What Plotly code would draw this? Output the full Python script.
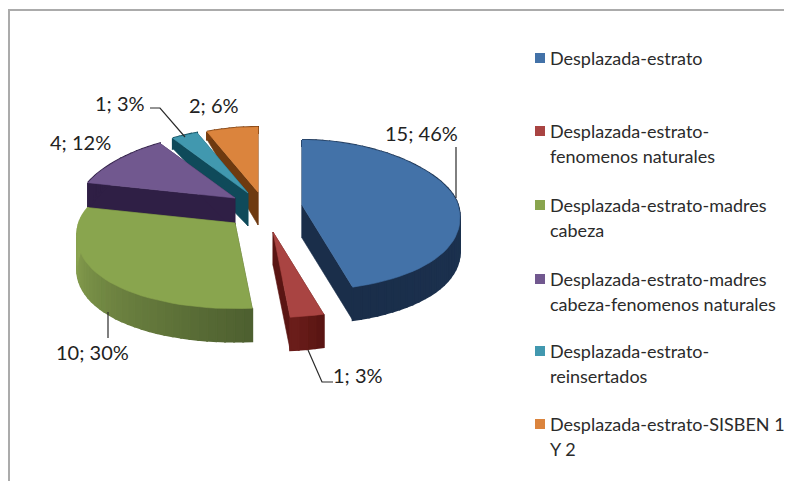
import math
import plotly.graph_objects as go

categories = ["Desplazada-estrato", "Desplazada-estrato-fenomenos naturales",
              "Desplazada-estrato-madres cabeza", "Desplazada-estrato-madres cabeza-fenomenos naturales",
              "Desplazada-estrato-reinsertados", "Desplazada-estrato-SISBEN 1 Y 2"]
values = [15, 1, 10, 4, 1, 2]
percent_labels = ["46%", "3%", "30%", "12%", "3%", "6%"]
legend_lines = [["Desplazada-estrato"],
                ["Desplazada-estrato-", "fenomenos naturales"],
                ["Desplazada-estrato-madres", "cabeza"],
                ["Desplazada-estrato-madres", "cabeza-fenomenos naturales"],
                ["Desplazada-estrato-", "reinsertados"],
                ["Desplazada-estrato-SISBEN 1", "Y 2"]]

# styling and layout (the axes are in page pixels; the page keeps an 8px body margin)
top_colors = ["#4372A8", "#A94442", "#89A54E", "#71588F", "#4198AF", "#DB843D"]
wall_from = ["#1E3656", "#5A1513", "#4E6030", "#2F1F45", "#0F4A5A", "#7A3E10"]
wall_to = ["#1A2E4A", "#6A1D1A", "#93AD55", "#2F1F45", "#0F4A5A", "#7A3E10"]
cut_colors = ["#1A2E4A", "#5A1513", "#4E6030", "#2F1F45", "#0F4A5A", "#6E3A10"]
centers = [(302, 205), (273, 232), (235, 223), (235, 198), (248, 193), (258, 192)]
RX, RY_BACK, RY_FRONT = 156, 65, 85.6
label_pos = [(421, 133), (358, 375), (92, 352), (80, 142), (120, 103), (214, 105)]
leaders = [[(456, 147), (456, 198)],
           [(308, 350), (322, 382), (333, 382)],
           [(108, 312), (108, 338)],
           [(150, 108), (160, 108), (185, 137)]]
legend_y = [58, 131, 205, 279, 351, 424]
LINE_GAP = 24.5


def top_pt(c, th):
    s, v = math.sin(th), math.cos(th)
    rx = RX * (1 - 0.13 * v if v > 0 else 1 - 0.16 * v)
    return c[0] + rx * s, c[1] - v * (RY_BACK if v > 0 else RY_FRONT)


def depth(v):
    return 33 - 27 * max(v, 0)


def bottom_pt(c, th):
    x, y = top_pt(c, th)
    return x, y + depth(math.cos(th))


def mix(a, b, t):
    pa = [int(a[i:i + 2], 16) for i in (1, 3, 5)]
    pb = [int(b[i:i + 2], 16) for i in (1, 3, 5)]
    return "rgb(%d,%d,%d)" % tuple(round(p + (q - p) * t) for p, q in zip(pa, pb))


def poly(fig, pts, color, lw=0.6):
    xs = [p[0] for p in pts] + [pts[0][0]]
    ys = [p[1] for p in pts] + [pts[0][1]]
    fig.add_trace(go.Scatter(x=xs, y=ys, mode="lines", fill="toself", fillcolor=color,
                             line=dict(color=color, width=lw), hoverinfo="skip", showlegend=False))


total = sum(values)
angles = [0]
for val in values:
    angles.append(angles[-1] + val / total * 2 * math.pi)

fig = go.Figure()
for i in [5, 4, 3, 2, 0, 1]:
    c, a0, a1 = centers[i], angles[i], angles[i + 1]
    n = max(4, int((a1 - a0) / 0.05))
    ths = [a0 + (a1 - a0) * k / n for k in range(n + 1)]
    for th in (a0, a1):
        poly(fig, [(c[0], c[1]), top_pt(c, th), bottom_pt(c, th), (c[0], c[1] + depth(0))], cut_colors[i])
    for k in range(n):
        t = k / (n - 1) if n > 1 else 0
        poly(fig, [top_pt(c, ths[k]), top_pt(c, ths[k + 1]), bottom_pt(c, ths[k + 1]), bottom_pt(c, ths[k])],
             mix(wall_from[i], wall_to[i], t), lw=2)
    poly(fig, [c] + [top_pt(c, th) for th in ths], top_colors[i])

for seg in leaders:
    fig.add_trace(go.Scatter(x=[p[0] for p in seg], y=[p[1] for p in seg], mode="lines",
                             line=dict(color="#2A2A2A", width=1.2), hoverinfo="skip", showlegend=False))

annotations = []
for val, pct, (x, y) in zip(values, percent_labels, label_pos):
    annotations.append(dict(x=x, y=y, xref="x", yref="y", text=f"{val}; {pct}", showarrow=False,
                            font=dict(family="Lato", size=20, color="#222222")))
for lines, y, col in zip(legend_lines, legend_y, top_colors):
    fig.add_trace(go.Scatter(x=[540], y=[y], mode="markers", marker=dict(symbol="square", size=10, color=col),
                             hoverinfo="skip", showlegend=False))
    for j, line in enumerate(lines):
        annotations.append(dict(x=548, y=y + j * LINE_GAP, xref="x", yref="y", xanchor="left", text=line,
                                showarrow=False, font=dict(family="Lato", size=18, color="#2B2B2B")))

fig.update_layout(
    width=784, height=473, margin=dict(l=0, r=0, t=0, b=0),
    paper_bgcolor="white", plot_bgcolor="white",
    xaxis=dict(range=[8, 792], visible=False, fixedrange=True),
    yaxis=dict(range=[481, 8], visible=False, fixedrange=True),
    annotations=annotations,
    shapes=[dict(type="line", x0=9, x1=9, y0=10, y1=481, line=dict(color="#ABABAB", width=2)),
            dict(type="line", x0=8, x1=792, y0=10, y1=10, line=dict(color="#ABABAB", width=2))],
)
fig.write_html("out.html", config=dict(displayModeBar=False))
